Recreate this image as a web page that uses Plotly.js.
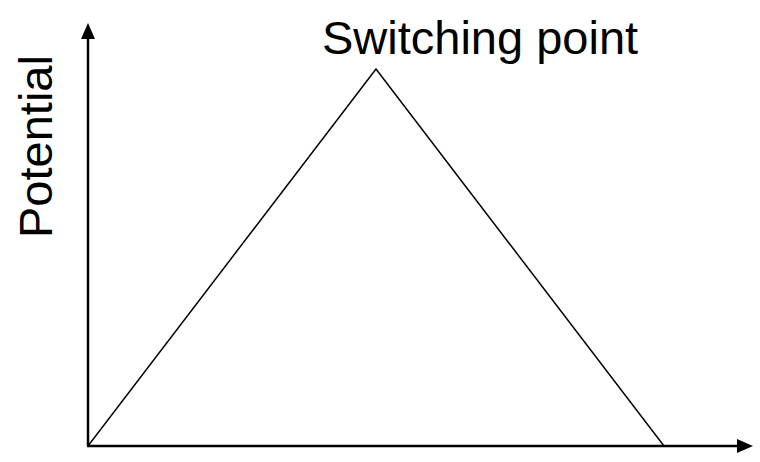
<!DOCTYPE html>
<html>
<head>
<meta charset="utf-8">
<script src="https://cdn.plot.ly/plotly-3.0.1.min.js"></script>
<style>html,body{margin:0;padding:0;background:#fff;}#chart{width:760px;height:462px;}</style>
</head>
<body>
<div id="chart"></div>
<script>
// Data: time steps and potential (triangular sweep)
const timeSteps = [0, 1, 2];
const potential = [0, 1, 0];
const peakLabel = "Switching point";
const yLabel = "Potential";

const W = 760, H = 462;
const L = 88, B = 16;           // plot origin in pixels
const plotW = W - L, plotH = H - B;
const px = p => (p - L) / plotW;           // pixel x -> paper
const py = p => (H - B - p) / plotH;       // pixel y -> paper

const trace = {
  x: timeSteps, y: potential, mode: 'lines', type: 'scatter',
  line: {color: '#000', width: 1.5}, hoverinfo: 'skip', showlegend: false
};

const shapes = [
  // y axis line + arrow
  {type: 'line', xref: 'paper', yref: 'paper', x0: 0, x1: 0, y0: 0, y1: py(36), line: {color: '#000', width: 2.5}},
  {type: 'path', xref: 'paper', yref: 'paper',
   path: `M ${px(81)} ${py(39)} L ${px(95)} ${py(39)} L ${px(88)} ${py(23)} Z`,
   fillcolor: '#000', line: {color: '#000', width: 0}},
  // x axis line + arrow
  {type: 'line', xref: 'paper', yref: 'paper', x0: px(87), x1: px(740), y0: 0, y1: 0, line: {color: '#000', width: 2.5}},
  {type: 'path', xref: 'paper', yref: 'paper',
   path: `M ${px(737)} ${py(439)} L ${px(737)} ${py(453)} L ${px(753)} ${py(446)} Z`,
   fillcolor: '#000', line: {color: '#000', width: 0}}
];

const layout = {
  width: W, height: H,
  margin: {l: L, r: 0, t: 0, b: B, pad: 0},
  paper_bgcolor: '#fff', plot_bgcolor: 'rgba(0,0,0,0)',
  xaxis: {range: [0, plotW / 288], visible: false, fixedrange: true},
  yaxis: {range: [0, plotH / 377], visible: false, fixedrange: true},
  shapes: shapes,
  annotations: [
    {text: peakLabel, xref: 'paper', yref: 'paper', x: px(480), y: py(37),
     xanchor: 'center', yanchor: 'middle', showarrow: false,
     font: {family: 'Liberation Sans, Arial, sans-serif', size: 47, color: '#000'}},
    {text: yLabel, xref: 'paper', yref: 'paper', x: px(36), y: py(147),
     xanchor: 'center', yanchor: 'middle', showarrow: false, textangle: -90,
     font: {family: 'Liberation Sans, Arial, sans-serif', size: 47, color: '#000'}}
  ],
  showlegend: false
};

Plotly.newPlot('chart', [trace], layout, {displayModeBar: false, staticPlot: true});
</script>
</body>
</html>
